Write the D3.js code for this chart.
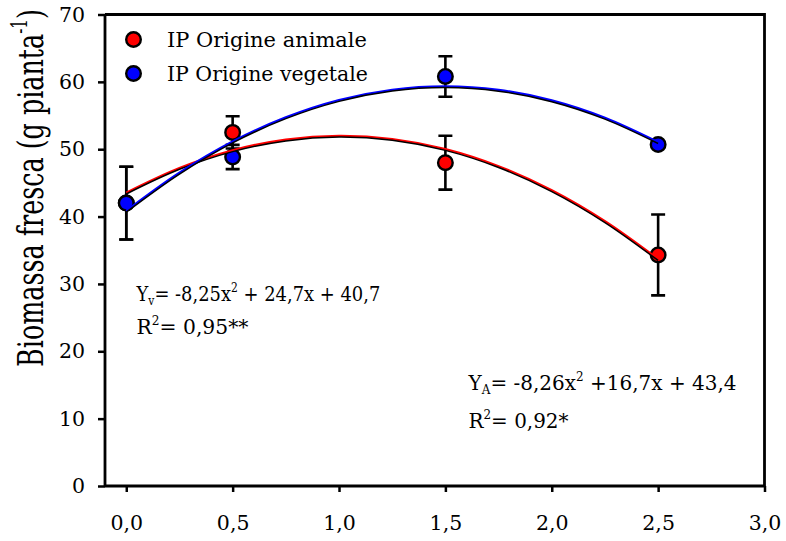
<!DOCTYPE html>
<html>
<head>
<meta charset="utf-8">
<script src="https://cdn.jsdelivr.net/npm/d3@7"></script>
<style>
  html, body { margin: 0; padding: 0; background: #fff; }
  svg { display: block; }
  text { font-family: "DejaVu Serif", "Liberation Serif", serif; fill: #000; }
</style>
</head>
<body>
<svg id="chart" width="786" height="541"></svg>
<script>
// ---------------- data ----------------
const seriesNames = ["IP Origine animale", "IP Origine vegetale"];
const seriesColors = ["#ff0000", "#0000ff"];
const doseX = [0, 0.5, 1.5, 2.5];
const animaleMean = [42.0, 52.5, 48.0, 34.3];
const animaleErr = [5.4, 2.4, 4.0, 6.0];
const vegetaleMean = [42.0, 48.85, 60.8, 50.7];
const vegetaleErr = [5.4, 1.8, 3.0, 0.4];
// regression curves
const fitX = [0, 0.25, 0.5, 0.75, 1.0, 1.25, 1.5, 1.75, 2.0, 2.25, 2.5];
const animaleFit = [43.4, 47.06, 49.69, 51.28, 51.84, 51.37, 49.87, 47.33, 43.76, 39.16, 33.53];
const vegetaleFit = [40.7, 46.36, 50.99, 54.58, 57.15, 58.68, 59.19, 58.66, 57.1, 54.51, 50.89];
const xTicks = [0, 0.5, 1.0, 1.5, 2.0, 2.5, 3.0];
const xTickLabels = ["0,0", "0,5", "1,0", "1,5", "2,0", "2,5", "3,0"];
const yTicks = [0, 10, 20, 30, 40, 50, 60, 70];
const yTickLabels = ["0", "10", "20", "30", "40", "50", "60", "70"];

// ---------------- layout ----------------
const svg = d3.select("#chart");
const pLeft = 105, pRight = 764.5, pTop = 14.5, pBottom = 486;
const x = d3.scaleLinear().domain([-0.1, 3.0]).range([pLeft, pRight]);
const y = d3.scaleLinear().domain([0, 70]).range([pBottom, pTop]);

// frame (top and right)
svg.append("path")
  .attr("d", `M${pLeft},${pTop}H${pRight}V${pBottom}`)
  .attr("fill", "none").attr("stroke", "#000").attr("stroke-width", 2.8);

// axes
const yAxis = d3.axisLeft(y).tickValues(yTicks).tickSize(7).tickPadding(9)
  .tickFormat((d, i) => yTickLabels[i]);
const xAxis = d3.axisBottom(x).tickValues(xTicks).tickSize(6).tickPadding(23)
  .tickFormat((d, i) => xTickLabels[i]);

const gy = svg.append("g").attr("transform", `translate(${pLeft},0)`).call(yAxis);
const gx = svg.append("g").attr("transform", `translate(0,${pBottom})`).call(xAxis);
[gx, gy].forEach(g => {
  g.select(".domain").attr("stroke", "#000").attr("stroke-width", 2.8);
  g.selectAll(".tick line").attr("stroke", "#000").attr("stroke-width", 2.5);
  g.selectAll(".tick text").attr("font-family", "DejaVu Serif").attr("font-size", 20.5).attr("fill", "#000");
});
gy.select(".domain").attr("d", `M0,${pTop}V${pBottom}`);
gx.select(".domain").attr("d", `M${pLeft},0H${pRight}`);
gy.selectAll(".tick text").attr("x", -20);

// helper: squeeze a text group along its writing direction to a target length
function squeeze(g, textSel, target) {
  const w = textSel.node().getComputedTextLength();
  const k = target / w;
  g.attr("transform", g.attr("transform") + ` scale(${k},1)`);
}

// y title
const titleG = svg.append("g").attr("transform", "translate(43,188) rotate(-90)");
const title = titleG.append("text").attr("text-anchor", "middle").attr("font-size", 36);
title.append("tspan").text("Biomassa fresca (g pianta");
title.append("tspan").attr("font-size", "0.6em").attr("dy", "-0.75em").text("-1");
title.append("tspan").attr("dy", "0.45em").text(")");
squeeze(titleG, title, 358);

// ---------------- marks ----------------
const series = [
  { name: seriesNames[0], color: seriesColors[0], mean: animaleMean, err: animaleErr, fit: animaleFit },
  { name: seriesNames[1], color: seriesColors[1], mean: vegetaleMean, err: vegetaleErr, fit: vegetaleFit }
];

const capW = 7;
series.forEach(s => {
  const g = svg.append("g");
  doseX.forEach((dx, i) => {
    const cx = x(dx), y1 = y(s.mean[i] + s.err[i]), y2 = y(s.mean[i] - s.err[i]);
    g.append("path")
      .attr("d", `M${cx},${y1}V${y2}M${cx - capW},${y1}H${cx + capW}M${cx - capW},${y2}H${cx + capW}`)
      .attr("stroke", "#000").attr("stroke-width", 2.6).attr("fill", "none");
  });
});
series.forEach(s => {
  svg.append("g").selectAll("circle").data(doseX).join("circle")
    .attr("cx", d => x(d))
    .attr("cy", (d, i) => y(s.mean[i]))
    .attr("r", 7.3)
    .attr("fill", s.color).attr("stroke", "#000").attr("stroke-width", 2.4);
});

const line = d3.line().x(d => x(d[0])).y(d => y(d[1])).curve(d3.curveCatmullRom.alpha(0.5));
series.forEach(s => {
  const pts = fitX.map((fx, i) => [fx, s.fit[i]]);
  svg.append("path").datum(pts).attr("d", line)
    .attr("fill", "none").attr("stroke", s.color).attr("stroke-width", 2.4)
    .attr("transform", "translate(0,-0.9)");
  svg.append("path").datum(pts).attr("d", line)
    .attr("fill", "none").attr("stroke", "#000").attr("stroke-width", 1.5)
    .attr("transform", "translate(0,0.3)");
});

// ---------------- legend ----------------
const legendY = [39.5, 73.5];
series.forEach((s, i) => {
  svg.append("circle").attr("cx", 133.5).attr("cy", legendY[i]).attr("r", 7.3)
    .attr("fill", s.color).attr("stroke", "#000").attr("stroke-width", 2.4);
  const g = svg.append("g").attr("transform", `translate(167,${legendY[i] + 7.5})`);
  const t = g.append("text").attr("font-size", 20).text(s.name);
  squeeze(g, t, i === 0 ? 200 : 201);
});

// ---------------- equations ----------------
function equation(xp, yp, sub, rest1, rest2, w) {
  const g = svg.append("g").attr("transform", `translate(${xp},${yp})`);
  const t = g.append("text").attr("font-size", 21);
  t.append("tspan").text("Y");
  t.append("tspan").attr("font-size", "0.6em").attr("dy", "0.3em").text(sub);
  t.append("tspan").attr("dy", "-0.18em").text(rest1);
  t.append("tspan").attr("font-size", "0.6em").attr("dy", "-0.7em").text("2");
  t.append("tspan").attr("dy", "0.42em").text(rest2);
  squeeze(g, t, w);
}
function rsq(xp, yp, rest, w) {
  const g = svg.append("g").attr("transform", `translate(${xp},${yp})`);
  const t = g.append("text").attr("font-size", 21);
  t.append("tspan").text("R");
  t.append("tspan").attr("font-size", "0.6em").attr("dy", "-0.7em").text("2");
  t.append("tspan").attr("dy", "0.42em").text(rest);
  squeeze(g, t, w);
}
equation(136.5, 301, "v", "= -8,25x", " + 24,7x + 40,7", 244);
rsq(136.5, 334, "= 0,95**", 112);
equation(468.5, 390, "A", "= -8,26x", " +16,7x + 43,4", 268);
rsq(468.5, 428, "= 0,92*", 100);
</script>
</body>
</html>
